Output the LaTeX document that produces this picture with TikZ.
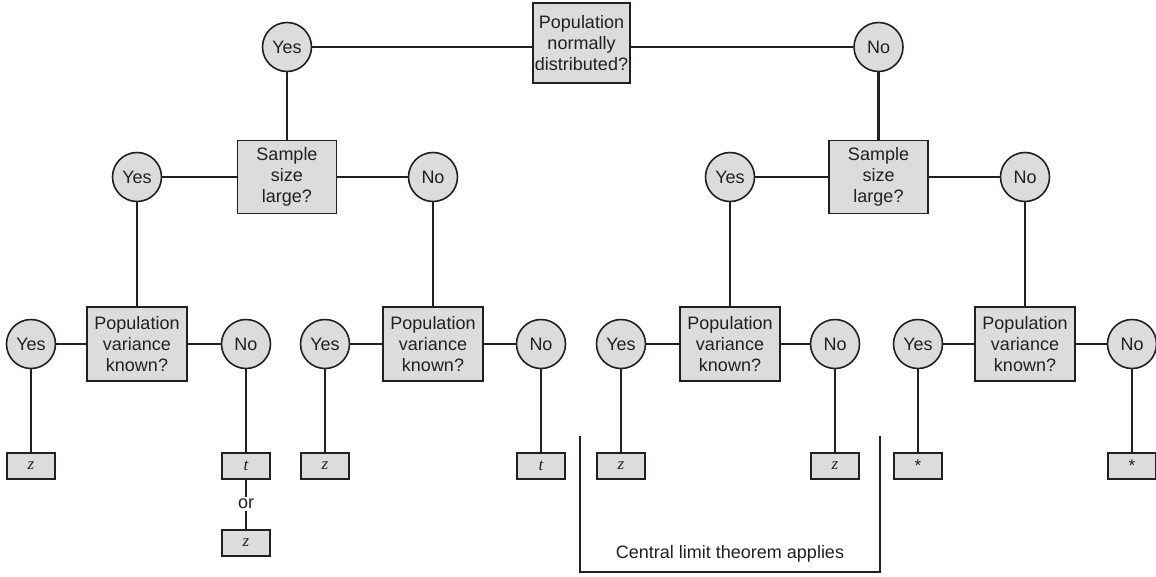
\documentclass[tikz,border=0pt]{standalone}
\usepackage{fontspec}
\setmainfont{Liberation Sans}
\newfontfamily\serifit{Liberation Serif}
\definecolor{boxgray}{HTML}{DCDCDC}
\definecolor{ink}{HTML}{231F20}
\begin{document}
\begin{tikzpicture}[x=1pt,y=-1pt,
  every node/.style={font=\fontsize{18}{21}\selectfont, text=ink},
  qbox/.style={draw=ink, line width=1.6pt, fill=boxgray, align=center, inner sep=0pt, minimum width=99pt, minimum height=74pt},
  ans/.style={circle, draw=ink, line width=1.6pt, fill=boxgray, inner sep=0pt, minimum size=49pt},
  res/.style={draw=ink, line width=1.6pt, fill=boxgray, inner sep=0pt, minimum width=48pt, minimum height=26pt, font=\serifit\itshape\fontsize{17}{17}\selectfont},
  link/.style={draw=ink, line width=2.9pt}]
\useasboundingbox (0,0) rectangle (1156,576);
% level 1
\node[qbox, minimum width=97pt, minimum height=80pt] (top) at (581.5,43) {Population\\normally\\distributed?};
\node[ans] (y1) at (287,47) {Yes};
\node[ans] (n1) at (878.5,47) {No};
% level 2
\node[qbox, minimum height=73pt] (sL) at (287,177) {Sample\\size\\large?};
\node[qbox, minimum height=73pt] (sR) at (878.5,177) {Sample\\size\\large?};
\node[ans] (yL) at (137,177) {Yes};
\node[ans] (nL) at (433,177) {No};
\node[ans] (yR) at (730,177) {Yes};
\node[ans] (nR) at (1025,177) {No};
% level 3
\node[qbox, minimum width=100pt] (v1) at (137,344) {Population\\variance\\known?};
\node[qbox, minimum width=100pt] (v2) at (433,344) {Population\\variance\\known?};
\node[qbox, minimum width=100pt] (v3) at (730,344) {Population\\variance\\known?};
\node[qbox, minimum width=100pt] (v4) at (1025,344) {Population\\variance\\known?};
\node[ans] (a1) at (31,344) {Yes};
\node[ans] (b1) at (246,344) {No};
\node[ans] (a2) at (325,344) {Yes};
\node[ans] (b2) at (541,344) {No};
\node[ans] (a3) at (621,344) {Yes};
\node[ans] (b3) at (835,344) {No};
\node[ans] (a4) at (918,344) {Yes};
\node[ans] (b4) at (1132,344) {No};
% results
\node[res] (r1) at (31,466) {z};
\node[res] (r2) at (246,466) {t};
\node[res] (r3) at (325,466) {z};
\node[res] (r4) at (541,466) {t};
\node[res] (r5) at (621,466) {z};
\node[res] (r6) at (835,466) {z};
\node[res, font=\fontsize{17}{17}\selectfont] (r7) at (918,466) {*};
\node[res, font=\fontsize{17}{17}\selectfont] (r8) at (1132,466) {*};
\node[inner sep=2pt] (or) at (246,504) {or};
\node[res] (r2b) at (246,543) {z};
% connectors
\draw[link] (y1) -- (y1 -| top.west);
\draw[link] (n1 -| top.east) -- (n1);
\draw[link] (y1) -- (sL);
\draw[link] (n1) -- (sR);
\draw[link] (yL) -- (sL) -- (nL);
\draw[link] (yR) -- (sR) -- (nR);
\draw[link] (yL) -- (v1);
\draw[link] (nL) -- (v2);
\draw[link] (yR) -- (v3);
\draw[link] (nR) -- (v4);
\draw[link] (a1) -- (v1) -- (b1);
\draw[link] (a2) -- (v2) -- (b2);
\draw[link] (a3) -- (v3) -- (b3);
\draw[link] (a4) -- (v4) -- (b4);
\draw[link] (a1) -- (r1);
\draw[link] (b1) -- (r2);
\draw[link] (a2) -- (r3);
\draw[link] (b2) -- (r4);
\draw[link] (a3) -- (r5);
\draw[link] (b3) -- (r6);
\draw[link] (a4) -- (r7);
\draw[link] (b4) -- (r8);
\draw[link] (r2) -- (or) -- (r2b);
% bracket
\coordinate (bl) at (580,436);
\coordinate (br) at (880,436);
\draw[link] (bl) |- (730,572) -| (br);
\node (clt) at (730,554) {Central limit theorem applies};
\end{tikzpicture}
\end{document}
